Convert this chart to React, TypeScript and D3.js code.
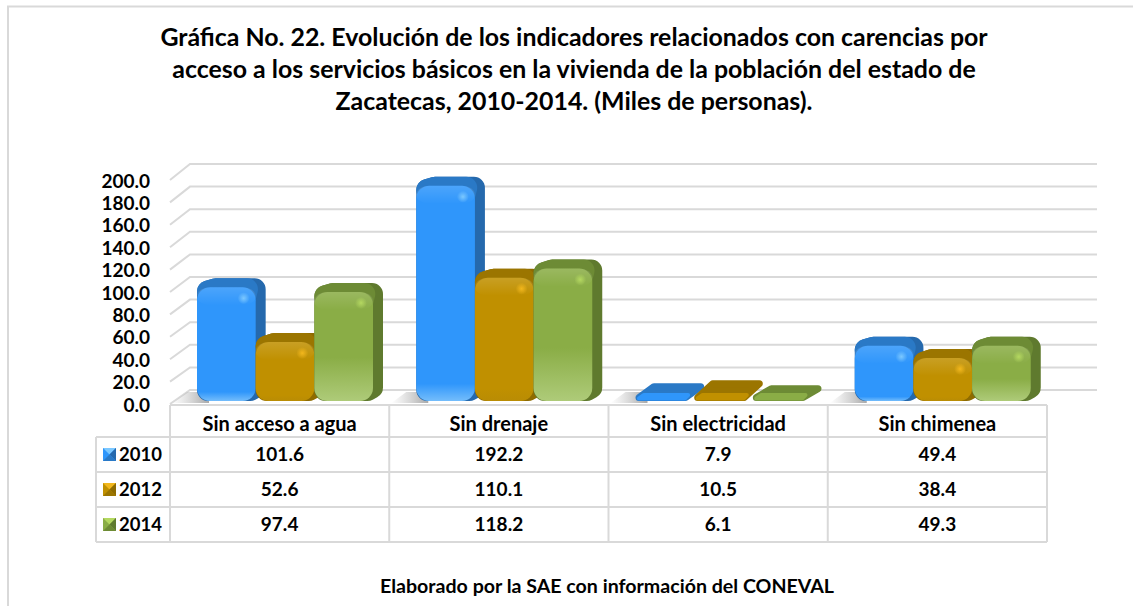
import React, { useEffect, useRef } from 'react';
import * as d3 from 'd3';

const titleLines = [
  'Gráfica No. 22. Evolución de los indicadores relacionados con carencias por',
  'acceso a los servicios básicos en la vivienda de la población del estado de',
  'Zacatecas, 2010-2014. (Miles de personas).',
];
const sourceNote = 'Elaborado por la SAE con información del CONEVAL';
const categories = ['Sin acceso a agua', 'Sin drenaje', 'Sin electricidad', 'Sin chimenea'];
const years = ['2010', '2012', '2014'];
const values2010 = [101.6, 192.2, 7.9, 49.4];
const values2012 = [52.6, 110.1, 10.5, 38.4];
const values2014 = [97.4, 118.2, 6.1, 49.3];
const seriesValues = [values2010, values2012, values2014];

const palette = [
  { front: '#2f96fb', low: '#74bdfb', top: '#2a79c6', side: '#2569ad', glow: '#7cc8ff', stop: 0.92 },
  { front: '#c09000', low: '#b98c04', top: '#9b7500', side: '#8e6b00', glow: '#f2b71c', stop: 0.9 },
  { front: '#8aad46', low: '#aecb79', top: '#6d8b35', side: '#5f7a2e', glow: '#b4d860', stop: 0.6 },
];

const FONT = 'Lato, "Open Sans", sans-serif';
const GRID = '#d9d9d9';
const DX = 10;
const DY = 9;

const App = () => {
  const svgRef = useRef<SVGSVGElement | null>(null);

  useEffect(() => {
    const svg = d3.select(svgRef.current);
    svg.selectAll('*').remove();

    // Scales: the bars sit slightly in front of the back wall
    const x0 = d3.scaleBand().domain(categories).range([170, 1047]);
    const x1 = d3.scaleBand().domain(years).range([27, 203]);
    const yFront = d3.scaleLinear().domain([0, 200]).range([401, 177]);
    const yWall = d3.scaleLinear().domain([0, 200]).range([390, 164]);
    const yLabel = d3.scaleLinear().domain([0, 200]).range([404, 180]);
    const ticks = yWall.ticks(10);

    const defs = svg.append('defs');
    palette.forEach((c, i) => {
      const g = defs.append('linearGradient').attr('id', `front${i}`)
        .attr('x1', 0).attr('x2', 0).attr('y1', 0).attr('y2', 1);
      g.append('stop').attr('offset', 0).attr('stop-color', c.front);
      g.append('stop').attr('offset', c.stop).attr('stop-color', c.front);
      g.append('stop').attr('offset', 1).attr('stop-color', c.low);
      const r = defs.append('radialGradient').attr('id', `glow${i}`);
      r.append('stop').attr('offset', 0).attr('stop-color', c.glow);
      r.append('stop').attr('offset', 1).attr('stop-color', c.glow).attr('stop-opacity', 0);
    });
    const sh = defs.append('linearGradient').attr('id', 'floorShadow');
    sh.append('stop').attr('offset', 0).attr('stop-color', '#bdbdbd').attr('stop-opacity', 0);
    sh.append('stop').attr('offset', 1).attr('stop-color', '#a8a8a8');
    const sheen = defs.append('linearGradient').attr('id', 'sheen')
      .attr('x1', 0).attr('x2', 0).attr('y1', 0).attr('y2', 1);
    sheen.append('stop').attr('offset', 0).attr('stop-color', '#fff').attr('stop-opacity', 0.14);
    sheen.append('stop').attr('offset', 1).attr('stop-color', '#fff').attr('stop-opacity', 0);

    // Page frame
    svg.append('path')
      .attr('d', 'M8,606V6.5H1133')
      .attr('fill', 'none').attr('stroke', GRID).attr('stroke-width', 2);

    // Title
    svg.append('g').selectAll('text').data(titleLines).enter().append('text')
      .attr('x', 574).attr('y', (_, i) => 46 + i * 32)
      .attr('text-anchor', 'middle')
      .attr('font-size', 24.9).attr('font-weight', 700).attr('fill', '#000')
      .text(d => d);

    // Walls and grid
    const grid = svg.append('g').attr('fill', 'none').attr('stroke', GRID).attr('stroke-width', 2);
    ticks.forEach(t => {
      const line = d3.line()([
        [170, yLabel(t)],
        [190, yWall(t)],
        [1097, yWall(t)],
      ]);
      grid.append('path').attr('d', line);
    });

    // Axis labels
    const axis = svg.append('g')
      .attr('transform', 'translate(150,1)')
      .call(d3.axisLeft(yLabel).tickValues(ticks).tickFormat(d3.format('.1f')).tickSize(0).tickPadding(0));
    axis.select('.domain').remove();
    axis.selectAll('text')
      .attr('font-family', FONT).attr('font-size', 19).attr('font-weight', 700).attr('fill', '#000');

    // Rounded polygon: a fill plus a thick stroke with round joins
    const rounded = (g, pts, color, r) =>
      g.append('path').attr('d', d3.line()(pts) + 'Z')
        .attr('fill', color).attr('stroke', color)
        .attr('stroke-width', 2 * r).attr('stroke-linejoin', 'round');

    // Bars
    const bars = svg.append('g');
    categories.forEach((cat, ci) => {
      years.forEach((yr, si) => {
        const v = seriesValues[si][ci];
        const c = palette[si];
        const x = x0(cat)! + x1(yr)!;
        const w = x1.bandwidth();
        const base = yFront(0);
        const top = yFront(v);
        const h = base - top;
        const g = bars.append('g');

        if (si === 0) {
          g.append('path')
            .attr('d', d3.line()([[x - 25, base + 2], [x - 10, base - 9], [x + 12, base - 9], [x + 12, base + 2]]))
            .attr('fill', 'url(#floorShadow)');
        }

        // Very low bars flatten into a parallelogram with a thin front sliver
        if (h < 20) {
          const r = 3.5;
          rounded(g, [
            [x + r, base - r],
            [x + DX + r + 5, top - DY + r],
            [x + w + DX - r, top - DY + r],
            [x + w - r - 5, base - r],
          ], c.top, r);
          rounded(g, [
            [x + r, base - 2.5],
            [x + r + 5, base - 6],
            [x + w - 6, base - 6],
            [x + w - r - 6, base - 2.5],
          ], c.front, 2);
          return;
        }

        const rHull = 11;
        const rFront = 13;

        // Outer silhouette in the side colour
        rounded(g, [
          [x + rHull, base - rHull],
          [x + rHull, top + rHull * 0.4],
          [x + DX + rHull * 0.8, top - DY + rHull],
          [x + w + DX - rHull, top - DY + rHull],
          [x + w + DX - rHull, base - DY - rHull * 0.4],
          [x + w - rHull * 0.5, base - rHull],
        ], c.side, rHull);

        // Top face
        rounded(g, [
          [x + rHull, top + rHull * 0.4],
          [x + DX + rHull * 0.8, top - DY + rHull],
          [x + w + DX - rHull * 1.7, top - DY + rHull],
          [x + w - rHull, top + rHull],
        ], c.top, rHull);

        // Front face
        g.append('rect')
          .attr('x', x).attr('y', top).attr('width', w).attr('height', h)
          .attr('rx', rFront).attr('ry', rFront)
          .attr('fill', `url(#front${si})`);
        g.append('rect')
          .attr('x', x).attr('y', top).attr('width', w).attr('height', Math.min(18, h))
          .attr('rx', rFront).attr('ry', rFront)
          .attr('fill', 'url(#sheen)');
        g.append('circle')
          .attr('cx', x + w - 12).attr('cy', top + 11).attr('r', 6)
          .attr('fill', `url(#glow${si})`);
      });
    });

    // Data table
    const rowY = [405, 437, 472, 507, 542];
    const colX = [...categories.map(c => x0(c)!), 1047];
    const table = svg.append('g').attr('stroke', GRID).attr('stroke-width', 2).attr('fill', 'none');
    table.append('path').attr('d', `M170,${rowY[0]}H1047M96,${rowY[1]}H1047M96,${rowY[2]}H1047M96,${rowY[3]}H1047M96,${rowY[4]}H1047M96,${rowY[1]}V${rowY[4]}`);
    colX.forEach(cx => {
      table.append('path').attr('d', `M${cx},${rowY[0]}V${rowY[4]}`);
    });

    const cellText = svg.append('g')
      .attr('text-anchor', 'middle').attr('font-weight', 700).attr('fill', '#000');
    categories.forEach((cat, ci) => {
      const cx = x0(cat)! + x0.bandwidth() / 2;
      cellText.append('text').attr('x', cx).attr('y', 431).attr('font-size', 20).text(cat);
      seriesValues.forEach((vals, si) => {
        cellText.append('text').attr('x', cx).attr('y', rowY[si + 1] + 24).attr('font-size', 19)
          .text(d3.format('.1f')(vals[ci]));
      });
    });

    // Legend keys, a small bevelled box beside each year
    years.forEach((yr, si) => {
      const c = palette[si];
      const kx = 103;
      const ky = rowY[si + 1] + 11;
      const g = svg.append('g');
      g.append('rect').attr('x', kx).attr('y', ky).attr('width', 13).attr('height', 13).attr('fill', c.front);
      g.append('path').attr('d', d3.line()([[kx, ky], [kx + 13, ky], [kx + 6.5, ky + 6.5]]) + 'Z').attr('fill', c.glow);
      g.append('path').attr('d', d3.line()([[kx + 13, ky], [kx + 13, ky + 13], [kx + 6.5, ky + 6.5]]) + 'Z').attr('fill', c.side);
      g.append('path').attr('d', d3.line()([[kx, ky + 13], [kx + 13, ky + 13], [kx + 6.5, ky + 6.5]]) + 'Z').attr('fill', c.top);
      svg.append('text')
        .attr('x', 119).attr('y', rowY[si + 1] + 24)
        .attr('font-size', 18.5).attr('font-weight', 700).attr('fill', '#000')
        .text(yr);
    });

    // Source note
    svg.append('text')
      .attr('x', 607).attr('y', 593).attr('text-anchor', 'middle')
      .attr('font-size', 19.6).attr('font-weight', 700).attr('fill', '#000')
      .text(sourceNote);
  }, []);

  return (
    <svg
      ref={svgRef}
      width={1133}
      height={606}
      style={{ position: 'absolute', left: 0, top: 0, background: '#fff', fontFamily: FONT }}
    />
  );
};

export default App;
